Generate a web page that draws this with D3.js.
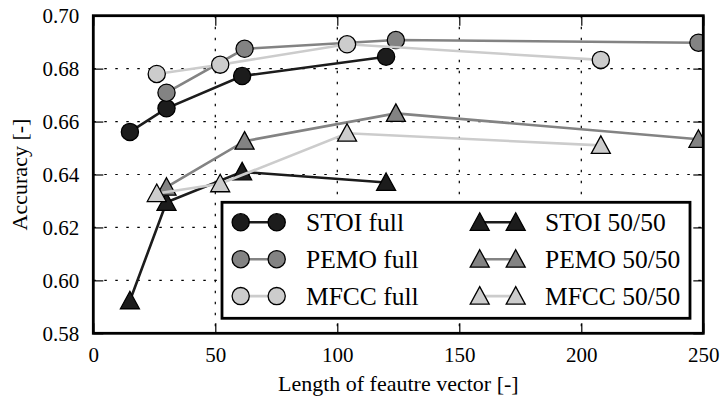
<!DOCTYPE html>
<html>
<head>
<meta charset="utf-8">
<script src="https://cdn.jsdelivr.net/npm/d3@7"></script>
<style>
  body { margin: 0; background: #fff; }
  svg text { font-family: "Liberation Serif", "Times New Roman", Tinos, "DejaVu Serif", serif !important; fill: #000; }
</style>
</head>
<body>
<div id="chart"></div>
<script>
// feature vector lengths and accuracies
var stoiFullX = [15, 30, 61, 120],   stoiFullY = [0.6561, 0.6650, 0.6772, 0.6845];
var pemoFullX = [30, 62, 124, 248],  pemoFullY = [0.6709, 0.6875, 0.6908, 0.6898];
var mfccFullX = [26, 52, 104, 208],  mfccFullY = [0.6780, 0.6815, 0.6892, 0.6833];
var stoiHalfX = [15, 30, 61, 120],   stoiHalfY = [0.5923, 0.6295, 0.6410, 0.6370];
var pemoHalfX = [30, 62, 124, 248],  pemoHalfY = [0.6352, 0.6526, 0.6631, 0.6533];
var mfccHalfX = [26, 52, 104, 208],  mfccHalfY = [0.6328, 0.6365, 0.6556, 0.6510];

var seriesNames = ["STOI full", "PEMO full", "MFCC full", "STOI 50/50", "PEMO 50/50", "MFCC 50/50"];
var xTicks = [0, 50, 100, 150, 200, 250];
var yTicks = [0.58, 0.60, 0.62, 0.64, 0.66, 0.68, 0.70];

var series = [
  {name: seriesNames[0], x: stoiFullX, y: stoiFullY, color: "#1c1c1c", shape: "circle"},
  {name: seriesNames[1], x: pemoFullX, y: pemoFullY, color: "#838383", shape: "circle"},
  {name: seriesNames[2], x: mfccFullX, y: mfccFullY, color: "#cccccc", shape: "circle"},
  {name: seriesNames[3], x: stoiHalfX, y: stoiHalfY, color: "#1c1c1c", shape: "triangle"},
  {name: seriesNames[4], x: pemoHalfX, y: pemoHalfY, color: "#838383", shape: "triangle"},
  {name: seriesNames[5], x: mfccHalfX, y: mfccHalfY, color: "#cccccc", shape: "triangle"}
];

var serif = '"Liberation Serif", "Times New Roman", Tinos, "DejaVu Serif", serif';

var margin = {top: 15.7, right: 20.7, bottom: 65.7, left: 93.3},
    width = 724 - margin.left - margin.right,
    height = 399 - margin.top - margin.bottom;

var svg = d3.select("#chart")
  .append("svg")
    .attr("width", 724)
    .attr("height", 399)
    .attr("font-family", serif)
  .append("g")
    .attr("transform", "translate(" + margin.left + "," + margin.top + ")");

var x = d3.scaleLinear().domain([0, 250]).range([0, width]);
var y = d3.scaleLinear().domain([0.58, 0.70]).range([height, 0]);

svg.append("defs").append("clipPath").attr("id", "clip")
  .append("rect").attr("width", width).attr("height", height);

// grid
svg.append("g").selectAll("line.gx")
  .data(xTicks.slice(1, -1)).enter().append("line")
    .attr("x1", d => x(d)).attr("x2", d => x(d))
    .attr("y1", 0).attr("y2", height)
    .style("stroke", "#000").style("stroke-width", 1.2)
    .style("stroke-dasharray", "2.5,8.5");
svg.append("g").selectAll("line.gy")
  .data(yTicks.slice(1, -1)).enter().append("line")
    .attr("x1", 0).attr("x2", width)
    .attr("y1", d => y(d)).attr("y2", d => y(d))
    .style("stroke", "#000").style("stroke-width", 1.2)
    .style("stroke-dasharray", "2.5,8.5");

// axes with inward ticks on all four sides
function styleAxis(g) {
  g.attr("font-family", serif).attr("font-size", 21);
  g.select(".domain").remove();
  g.selectAll(".tick line").style("stroke", "#000").style("stroke-width", 1.2);
  g.selectAll("text").style("font-family", serif).style("font-size", "21px");
}
svg.append("g")
  .attr("transform", "translate(0," + height + ")")
  .call(d3.axisBottom(x).tickValues(xTicks).tickSize(-10).tickPadding(14).tickFormat(d3.format("d")))
  .call(styleAxis);
svg.append("g")
  .call(d3.axisTop(x).tickValues(xTicks).tickSize(-10).tickFormat(""))
  .call(styleAxis);
svg.append("g")
  .call(d3.axisLeft(y).tickValues(yTicks).tickSize(-10).tickPadding(14).tickFormat(d3.format(".2f")))
  .call(styleAxis);
svg.append("g")
  .attr("transform", "translate(" + width + ",0)")
  .call(d3.axisRight(y).tickValues(yTicks).tickSize(-10).tickFormat(""))
  .call(styleAxis);

var triangle = "M0,-9.5L9.5,8L-9.5,8Z";

function drawMarker(sel, s) {
  if (s.shape === "circle") {
    sel.append("circle").attr("r", 8.6);
  } else {
    sel.append("path").attr("d", triangle);
  }
  sel.selectAll("circle,path")
    .style("fill", s.color).style("stroke", "#000").style("stroke-width", 1.3);
}

var plot = svg.append("g").attr("clip-path", "url(#clip)");
var line = d3.line().x(d => x(d[0])).y(d => y(d[1]));

series.forEach(function(s) {
  var pts = s.x.map((v, i) => [v, s.y[i]]);
  var g = plot.append("g");
  g.append("path").datum(pts)
    .attr("d", line)
    .style("fill", "none").style("stroke", s.color).style("stroke-width", 2.6);
  g.selectAll("g.m").data(pts).enter().append("g")
    .attr("transform", d => "translate(" + x(d[0]) + "," + y(d[1]) + ")")
    .each(function() { drawMarker(d3.select(this), s); });
});

// frame
svg.append("rect")
  .attr("width", width).attr("height", height)
  .style("fill", "none").style("stroke", "#000").style("stroke-width", 2.8);

// legend
var leg = svg.append("g").attr("transform", "translate(" + (222 - margin.left) + "," + (202.3 - margin.top) + ")");
leg.append("rect").attr("width", 468).attr("height", 116)
  .style("fill", "#fff").style("stroke", "#000").style("stroke-width", 2.8);
series.forEach(function(s, i) {
  var col = Math.floor(i / 3), row = i % 3;
  var g = leg.append("g").attr("transform", "translate(" + (18.7 + col * 239) + "," + (20 + row * 36.9) + ")");
  g.append("line").attr("x1", 0).attr("x2", 36)
    .style("stroke", s.color).style("stroke-width", 2.6);
  drawMarker(g.append("g"), s);
  drawMarker(g.append("g").attr("transform", "translate(36,0)"), s);
  g.append("text").attr("x", 65.3).attr("y", 9)
    .style("font-family", serif).style("font-size", "25.5px").text(s.name);
});

// axis titles
svg.append("text")
  .attr("x", width / 2).attr("y", height + 58)
  .attr("text-anchor", "middle").style("font-family", serif).style("font-size", "22px")
  .text("Length of feautre vector [-]");
svg.append("text")
  .attr("transform", "translate(" + (-66) + "," + (height / 2) + ") rotate(-90)")
  .attr("text-anchor", "middle").style("font-family", serif).style("font-size", "22px")
  .text("Accuracy [-]");
</script>
</body>
</html>
